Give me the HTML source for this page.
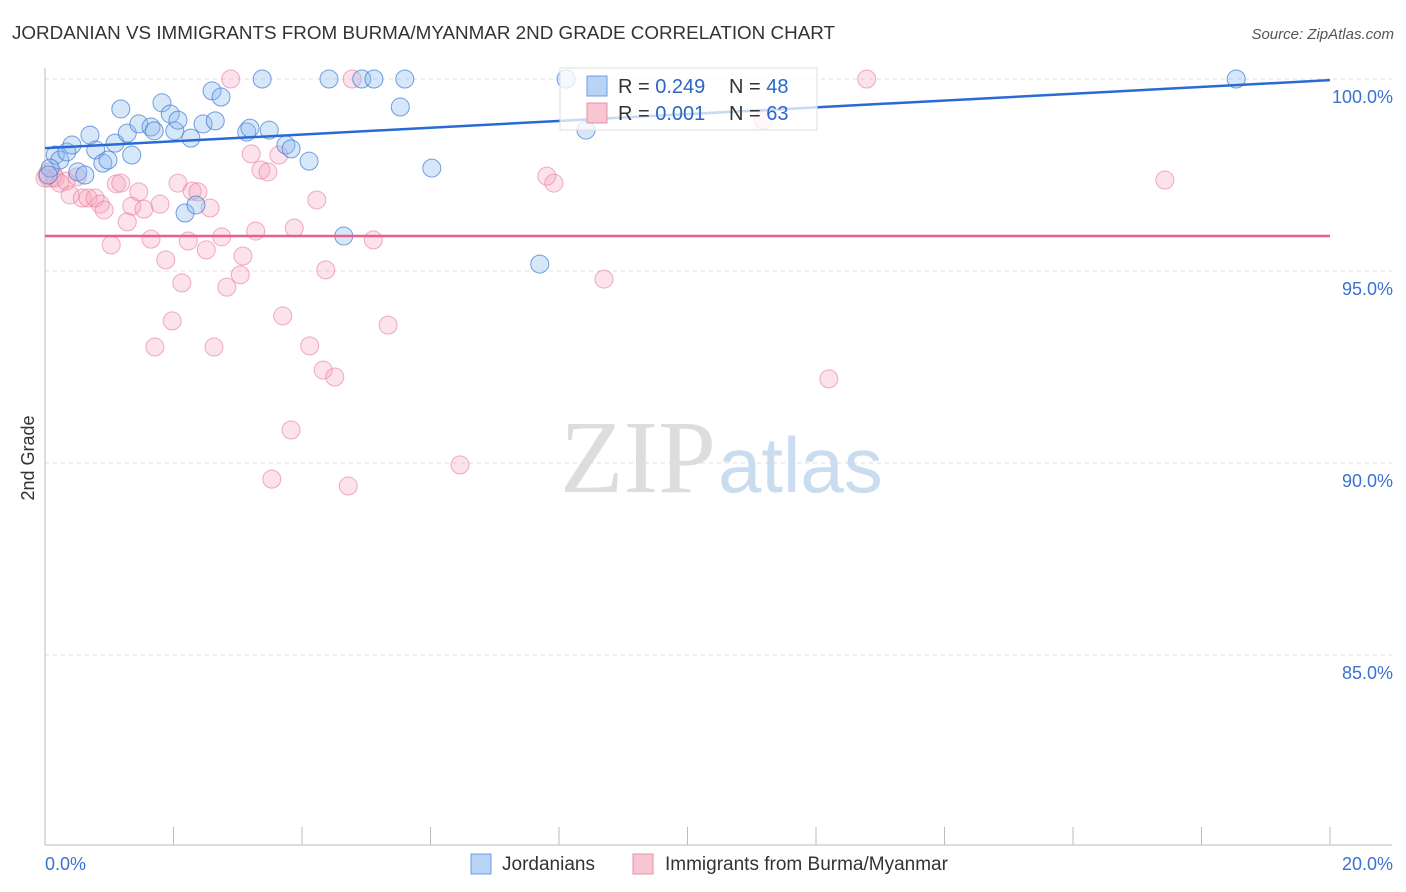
<!DOCTYPE html>
<html><head><meta charset="utf-8"><style>
body{margin:0;background:#fff;font-family:"Liberation Sans",sans-serif;}
#c{position:absolute;left:0;top:0;}
</style></head><body>
<svg id="c" width="1406" height="892">
<text x="12" y="39" font-size="18" fill="#333" textLength="823" lengthAdjust="spacingAndGlyphs">JORDANIAN VS IMMIGRANTS FROM BURMA/MYANMAR 2ND GRADE CORRELATION CHART</text>
<text x="1394" y="39" font-size="15" fill="#555" font-style="italic" text-anchor="end">Source: ZipAtlas.com</text>
<text x="34" y="458" font-size="18" fill="#333" text-anchor="middle" transform="rotate(-90 34 458)">2nd Grade</text>
<g id="grid"></g>
<text x="716" y="492" font-size="104" fill="#ddd" text-anchor="end" font-family="Liberation Serif">ZIP</text>
<text x="718" y="492" font-size="78" fill="#c9dcf0">atlas</text>
<g id="pts"></g>
<g id="lines"></g>
<g>
<rect x="560" y="68" width="257" height="62" fill="rgba(255,255,255,0.75)" stroke="#ddd"/>
<rect x="587" y="76" width="20" height="20" fill="#b8d3f5" stroke="#6a9fe0"/>
<rect x="587" y="103" width="20" height="20" fill="#f8c5d3" stroke="#e890aa"/>
<text x="618" y="93" font-size="20" fill="#333">R = <tspan fill="#2a66c8">0.249</tspan><tspan x="729">N = </tspan><tspan fill="#2a66c8">48</tspan></text>
<text x="618" y="120" font-size="20" fill="#333">R = <tspan fill="#2a66c8">0.001</tspan><tspan x="729">N = </tspan><tspan fill="#2a66c8">63</tspan></text>
</g>
<g>
<rect x="471" y="854" width="20" height="20" fill="#b8d3f5" stroke="#6a9fe0"/>
<text x="502" y="870" font-size="19" fill="#333">Jordanians</text>
<rect x="633" y="854" width="20" height="20" fill="#f8c5d3" stroke="#e890aa"/>
<text x="665" y="870" font-size="19" fill="#333">Immigrants from Burma/Myanmar</text>
</g>
</svg>
<script>
const blueX=[0.16,0.23,0.34,0.42,0.51,0.62,0.70,0.79,0.90,0.98,1.09,1.18,1.28,1.35,1.46,1.65,1.70,1.82,1.95,2.02,2.07,2.18,2.27,2.35,2.46,2.60,2.65,2.74,3.14,3.19,3.38,3.49,3.75,3.83,4.11,4.42,4.65,4.93,5.12,5.53,5.60,6.02,7.70,8.11,8.42,18.54,0.08,0.05];
const blueY=[98.02,97.89,98.10,98.28,97.58,97.50,98.54,98.15,97.81,97.89,98.33,99.22,98.59,98.02,98.83,98.75,98.65,99.38,99.09,98.65,98.93,96.51,98.46,96.72,98.83,99.69,98.91,99.53,98.62,98.72,100,98.67,98.28,98.18,97.86,100,95.91,100,100,99.27,100,97.68,95.18,100,98.67,100,97.68,97.50];
const pinkX=[0.08,0.16,0.23,0.33,0.39,0.50,0.58,0.67,0.78,0.86,0.92,1.03,1.11,1.18,1.28,1.35,1.46,1.54,1.65,1.71,1.79,1.88,1.98,2.07,2.13,2.23,2.29,2.38,2.51,2.57,2.63,2.75,2.83,2.89,3.04,3.08,3.21,3.28,3.36,3.47,3.53,3.64,3.70,3.83,3.88,4.12,4.23,4.33,4.37,4.51,4.72,4.78,5.11,5.34,6.46,7.81,7.92,8.70,11.18,12.20,12.79,17.43,0.0];
const pinkY=[97.50,97.42,97.29,97.34,96.98,97.45,96.90,96.90,96.90,96.74,96.59,95.68,97.27,97.29,96.28,96.69,97.06,96.61,95.83,93.02,96.74,95.29,93.70,97.29,94.69,95.78,97.08,97.06,95.55,96.64,93.02,95.89,94.58,100,94.90,95.39,98.05,96.04,97.63,97.58,89.58,98.02,93.83,90.86,96.12,93.05,96.85,92.42,95.03,92.24,89.40,100,95.81,93.59,89.95,97.47,97.29,94.79,98.93,92.19,100,97.37,97.42];
const yTicks=[100,95,90,85];
const yTickLabels=["100.0%","95.0%","90.0%","85.0%"];
const blueTrend=[98.2,99.97];
const pinkTrend=[95.91,95.91];
const NS="http://www.w3.org/2000/svg";
const X=v=>45+v/20*1285;
const Y=v=>79+(100-v)*38.4;
function mk(t,a,p){const e=document.createElementNS(NS,t);for(const k in a)e.setAttribute(k,a[k]);p.appendChild(e);return e;}
const g=document.getElementById('grid');
yTicks.forEach((t,i)=>{
 const l=mk('line',{x1:45,x2:1392,y1:Y(t),y2:Y(t),stroke:'#ddd','stroke-dasharray':'4,4'},g);
 
 
 const tx=mk('text',{x:1393,y:Y(t)+24,'font-size':18,fill:'#3a72d0','text-anchor':'end'},g);
 tx.textContent=yTickLabels[i];
 
 
});
const ax=mk('line',{x1:45,x2:45,y1:68,y2:845,stroke:'#bbb'},g);


const bx=mk('line',{x1:45,x2:1392,y1:845,y2:845,stroke:'#bbb'},g);


for(let i=0;i<=10;i++){const t=mk('line',{x1:X(i*2),x2:X(i*2),y1:827,y2:845,stroke:'#bbb'},g);
 
 }
const xl=[["0.0%",45,'start'],["20.0%",1393,'end']];
xl.forEach(a=>{const t=mk('text',{x:a[1],y:870,'font-size':18,fill:'#3a72d0','text-anchor':a[2]},g);t.textContent=a[0];
 
 });
const p=document.getElementById('pts');
pinkX.forEach((v,i)=>{const c=mk('circle',{cx:X(v),cy:Y(pinkY[i]),r:i==0?12:9,fill:'rgba(244,160,185,0.3)',stroke:'rgba(232,120,155,0.6)','stroke-width':1},p);
 
 });
blueX.forEach((v,i)=>{const c=mk('circle',{cx:X(v),cy:Y(blueY[i]),r:9,fill:'rgba(140,185,240,0.35)',stroke:'rgba(60,120,210,0.7)','stroke-width':1},p);
 
 });
const L=document.getElementById('lines');
const b=mk('line',{x1:X(0),x2:X(20),y1:Y(blueTrend[0]),y2:Y(blueTrend[1]),stroke:'#2a6ad4','stroke-width':2.5},L);


const pk=mk('line',{x1:X(0),x2:X(20),y1:Y(pinkTrend[0]),y2:Y(pinkTrend[1]),stroke:'#e8608a','stroke-width':2.5},L);


</script>
</body></html>
